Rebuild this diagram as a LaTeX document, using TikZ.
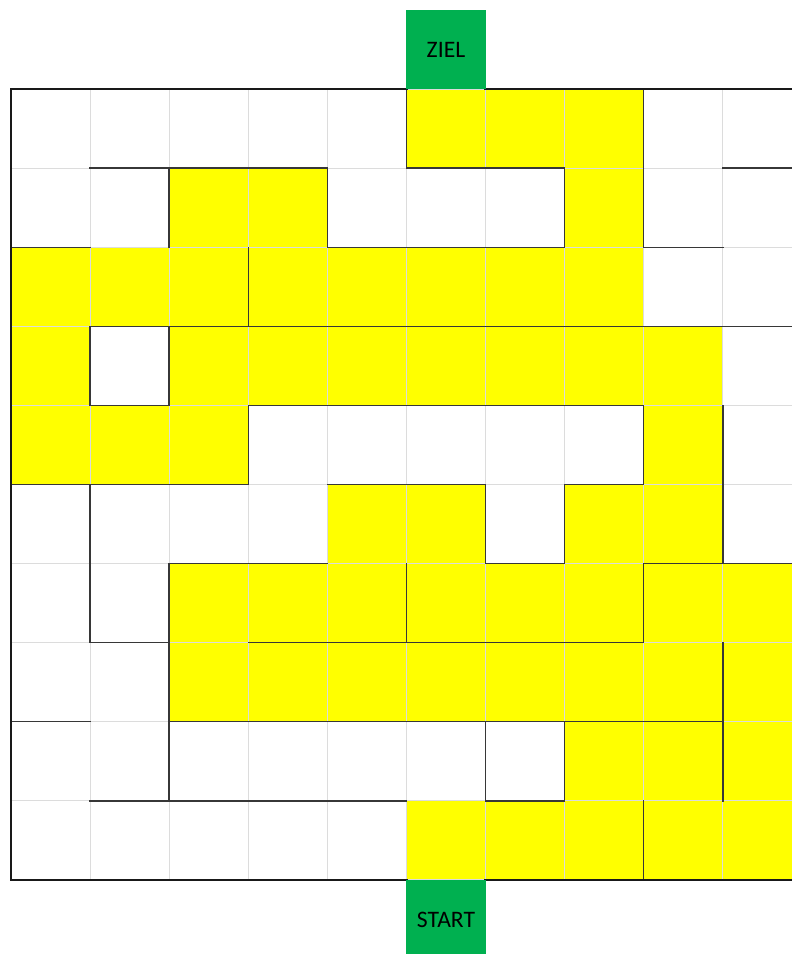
\documentclass[tikz,border=0pt]{standalone}
\usepackage{fontspec}
\setmainfont{Carlito}
\usepackage{tikz}
\usetikzlibrary{positioning}
\definecolor{pathfill}{RGB}{255,255,0}
\definecolor{exitfill}{RGB}{0,176,80}
\definecolor{gridline}{RGB}{220,220,220}
\definecolor{wallline}{RGB}{55,55,55}
\tikzset{
  gridrule/.style={draw=gridline, line width=0.4pt},
  wallrule/.style={draw=wallline, line width=0.5pt, line cap=rect},
  framerule/.style={draw=black!90, line width=0.8pt, line cap=rect},
  exitbox/.style={
    rectangle, fill=exitfill, draw=none,
    minimum width=1cm, minimum height=1cm,
    inner sep=0pt, font=\fontsize{8.5}{10}\selectfont
  }
}

\begin{document}
\begin{tikzpicture}[x=1cm, y=-1cm]
  \useasboundingbox (-0.139,-1.126) rectangle (9.874,10.936);

  % yellow cells, row/columns
  \foreach \r/\cols in {0/{5,6,7}, 1/{2,3,7}, 2/{0,1,2,3,4,5,6,7},
      3/{0,2,3,4,5,6,7,8}, 4/{0,1,2,8}, 5/{4,5,7,8},
      6/{2,3,4,5,6,7,8,9}, 7/{2,3,4,5,6,7,8,9}, 8/{7,8,9}, 9/{5,6,7,8,9}}
    \foreach \c in \cols
      \fill[pathfill] (\c,\r) rectangle ++(1,1);

  \draw[gridrule] (0,0) grid (10,10);

  % walls along rows
  \foreach \k/\cols in {1/{1,2,3,5,6,9}, 2/{0,4,5,6,8}, 3/{1,2,3,4,5,6,7,8,9},
      4/{1,3,4,5,6,7}, 5/{0,1,2,4,5,7}, 6/{2,3,6,8,9}, 7/{1,3,4,5,6,7},
      8/{0,2,3,4,5,6,7,8}, 9/{1,2,3,4,6}}
    \foreach \c in \cols
      \draw[wallrule] (\c,\k) -- ++(1,0);

  % walls along columns
  \foreach \j/\rows in {1/{3,5,6}, 2/{1,3,6,7,8}, 3/{2,4}, 4/{1}, 5/{0,6},
      6/{5,8}, 7/{1,5,8}, 8/{0,1,4,6,9}, 9/{4,5,7,8}}
    \foreach \r in \rows
      \draw[wallrule] (\j,\r) -- ++(0,1);

  % outer frame, open at goal and start
  \draw[framerule] (5,0) -- (0,0) -- (0,10) -- (5,10);
  \draw[framerule] (6,0) -- (10,0) -- (10,10) -- (6,10);

  \node[exitbox] (ziel) at (5.5,-0.5) {ZIEL};
  \node[exitbox] (start) at (5.5,10.5) {START};
\end{tikzpicture}
\end{document}
